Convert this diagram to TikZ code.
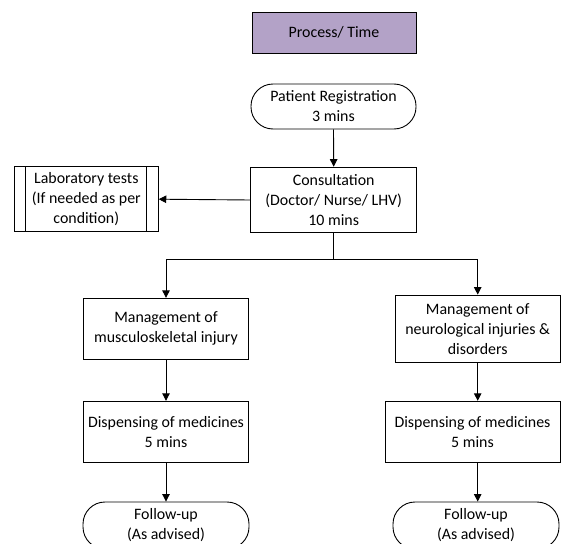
\documentclass[tikz,border=0pt]{standalone}
\usepackage{fontspec}
\setmainfont{Carlito}
\usetikzlibrary{arrows.meta,calc}
\definecolor{hdrfill}{RGB}{179,162,199}
\begin{document}
\begin{tikzpicture}[x=1pt,y=-1pt,
  every node/.style={font=\fontsize{15.9}{20}\selectfont, align=center, inner sep=0pt, line width=0.9pt},
  procbox/.style={draw, rectangle},
  termbox/.style={draw, rectangle, rounded corners=22pt},
  arr/.style={line width=0.9pt, -{Triangle[length=7.5pt,width=7.5pt]}},
  ln/.style={line width=0.9pt}
]
\useasboundingbox (0,0) rectangle (561,543);
\clip (0,0) rectangle (561,543);
\node[procbox, fill=hdrfill, minimum width=164pt, minimum height=41pt] (hdr) at (334,32.7) {Process/ Time};
\node[termbox, minimum width=165pt, minimum height=45pt] (reg) at (333.5,106.5) {Patient Registration\\3 mins};
\node[procbox, minimum width=165.7pt, minimum height=65.7pt] (cons) at (333.7,200) {Consultation\\(Doctor/ Nurse/ LHV)\\10 mins};
\node[procbox, minimum width=144pt, minimum height=65pt] (lab) at (86.3,199.2) {Laboratory tests\\(If needed as per\\condition)};
\draw[ln] ($(lab.north west)+(12,0)$) coordinate (l1) -- ($(lab.south west)+(12,0)$) coordinate (l2);
\draw[ln] ($(lab.north east)+(-12,0)$) coordinate (l3) -- ($(lab.south east)+(-12,0)$) coordinate (l4);
\node[procbox, minimum width=165.4pt, minimum height=61pt] (musc) at (166,328.8) {Management of\\musculoskeletal injury};
\node[procbox, minimum width=165pt, minimum height=67.3pt] (neuro) at (477.7,328.7) {Management of\\neurological injuries \&\\disorders};
\node[procbox, minimum width=165.4pt, minimum height=61.5pt] (dispL) at (166,432) {Dispensing of medicines\\5 mins};
\node[procbox, minimum width=175pt, minimum height=61.5pt] (dispR) at (472.5,432) {Dispensing of medicines\\5 mins};
\node[termbox, minimum width=166pt, minimum height=47pt] (fuL) at (166,525.5) {Follow-up\\(As advised)};
\node[termbox, minimum width=166pt, minimum height=47pt] (fuR) at (476,525.5) {Follow-up\\(As advised)};
\coordinate (br) at (333.7,259);
\draw[arr] (reg.south) -- (cons.north);
\draw[arr] (cons.west) -- (lab.east);
\draw[ln] (cons.south) -- (br);
\draw[arr] (br) -| (musc.north);
\draw[arr] (br) -| (neuro.north);
\draw[arr] (musc.south) -- (dispL.north);
\draw[arr] (neuro.south) -- (neuro.south |- dispR.north);
\draw[arr] (dispL.south) -- (fuL.north);
\draw[arr] (neuro.south |- dispR.south) -- (neuro.south |- fuR.north);
\end{tikzpicture}
\end{document}
